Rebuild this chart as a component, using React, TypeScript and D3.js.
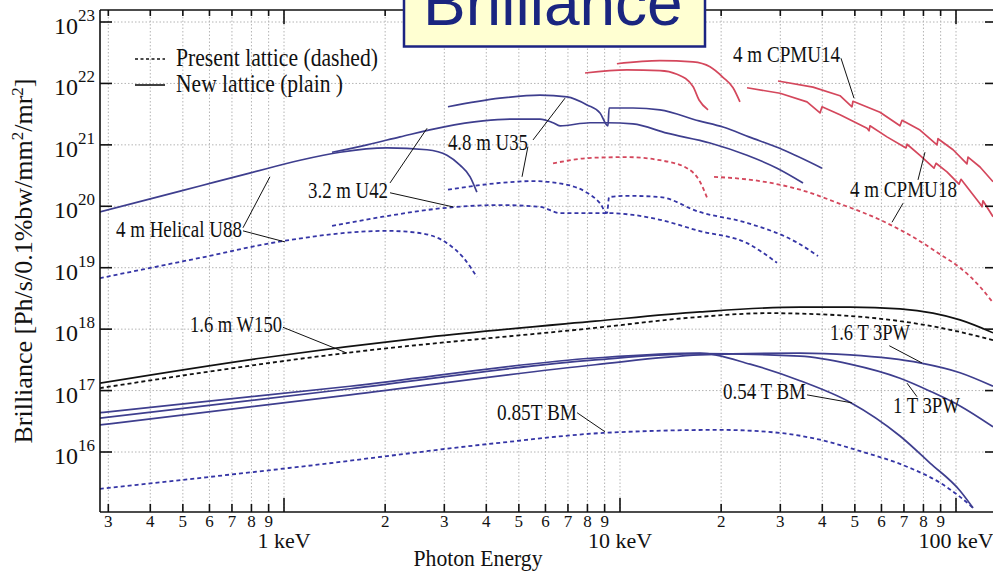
import React from "react";
import * as d3 from "d3";

// Each point: [photon energy in keV, log10 brilliance]
type Pt = [number, number];

const U88_NEW: Pt[] = [[0.283, 19.91], [0.4, 20.12], [0.562, 20.33], [0.79, 20.54], [1.116, 20.75], [1.468, 20.88], [2.026, 20.95], [2.665, 20.92], [3.055, 20.83], [3.34, 20.67], [3.58, 20.48], [3.75, 20.23]];
const U88_PRESENT: Pt[] = [[0.283, 18.83], [0.562, 19.16], [1.007, 19.44], [2.026, 19.6], [2.488, 19.57], [3.055, 19.4], [3.41, 19.17], [3.75, 18.85]];
const U42_NEW: Pt[] = [[1.39, 20.88], [1.766, 21.0], [2.215, 21.13], [2.973, 21.29], [3.91, 21.39], [4.8, 21.42], [5.78, 21.42], [6.32, 21.36], [6.63, 21.31], [8.14, 21.36], [9.15, 21.36], [10.93, 21.34], [13.8, 21.19], [18.53, 21.03], [23.88, 20.83], [29.33, 20.62], [35.05, 20.38]];
const U42_PRESENT: Pt[] = [[1.39, 19.68], [1.97, 19.83], [2.973, 19.97], [4.39, 20.02], [5.78, 19.99], [6.63, 19.89], [8.14, 19.89], [9.15, 19.89], [10.93, 19.86], [13.15, 19.78], [17.19, 19.6], [23.88, 19.4], [29.33, 19.08]];
const U35_NEW: Pt[] = [[3.076, 21.62], [4.39, 21.76], [5.78, 21.81], [6.96, 21.78], [7.98, 21.65], [8.72, 21.52], [9.21, 21.31], [9.28, 21.6], [10.93, 21.6], [13.15, 21.57], [17.19, 21.39], [20.25, 21.29], [24.2, 21.13], [30.56, 20.92], [39.93, 20.62]];
const U35_PRESENT: Pt[] = [[3.076, 20.27], [4.39, 20.38], [5.51, 20.41], [6.96, 20.35], [7.98, 20.22], [8.72, 20.05], [9.15, 19.89], [9.28, 20.15], [10.49, 20.17], [13.15, 20.15], [17.19, 19.91], [23.88, 19.73], [33.87, 19.4], [38.85, 19.19]];
const CPMU_NEW_LOW1: Pt[] = [[7.87, 22.17], [10.49, 22.22], [13.15, 22.21], [14.78, 22.15], [16.49, 21.95], [17.19, 21.73], [18.28, 21.57]];
const CPMU_NEW_LOW2: Pt[] = [[9.79, 22.32], [13.15, 22.37], [16.49, 22.35], [18.53, 22.27], [20.25, 22.1], [21.7, 21.93], [22.75, 21.7]];
const CPMU18_NEW: Pt[] = [[23.88, 21.93], [29.94, 21.84], [36.02, 21.7], [39.38, 21.52], [39.93, 21.62], [45.16, 21.49], [54.35, 21.27], [55.1, 21.23], [55.46, 21.31], [62.31, 21.13], [71.0, 20.95], [71.5, 21.01], [78.13, 20.83], [86.0, 20.62], [87.2, 20.7], [94.0, 20.56], [102.1, 20.36], [103.5, 20.44], [117.9, 20.04], [119.5, 19.99], [120.3, 20.09], [128.9, 19.83]];
const CPMU14_NEW: Pt[] = [[29.53, 22.04], [37.53, 21.94], [45.16, 21.8], [49.02, 21.62], [49.36, 21.71], [59.4, 21.53], [68.13, 21.31], [69.08, 21.4], [78.13, 21.24], [87.8, 21.0], [88.4, 21.1], [98.0, 20.92], [107.8, 20.69], [108.6, 20.8], [117.9, 20.64], [128.9, 20.4]];
const CPMU_PRESENT_LOW: Pt[] = [[6.32, 20.7], [8.31, 20.79], [10.49, 20.8], [13.15, 20.75], [15.83, 20.62], [17.3, 20.4], [18.28, 20.1]];
const CPMU_PRESENT_HIGH: Pt[] = [[19.05, 20.48], [26.11, 20.41], [34.34, 20.27], [45.16, 20.04], [59.4, 19.78], [74.47, 19.5], [89.6, 19.22], [102.8, 19.0], [117.9, 18.69], [128.9, 18.43]];
const W150_NEW: Pt[] = [[0.283, 17.12], [0.86, 17.53], [2.683, 17.87], [8.43, 18.13], [17.3, 18.28], [34.34, 18.36], [48.35, 18.36], [68.13, 18.33], [85.4, 18.26], [102.8, 18.15], [128.9, 17.94]];
const W150_PRESENT: Pt[] = [[0.283, 17.04], [1.519, 17.61], [8.43, 18.02], [17.3, 18.2], [27.39, 18.26], [43.63, 18.23], [68.13, 18.13], [96.0, 17.99], [128.9, 17.82]];
const BM054_NEW: Pt[] = [[0.283, 16.64], [1.572, 17.07], [8.43, 17.53], [17.3, 17.61], [24.4, 17.43], [34.34, 17.16], [48.35, 16.81], [68.13, 16.26], [83.7, 15.82], [102.8, 15.37], [112.4, 15.09]];
const PW1T_NEW: Pt[] = [[0.283, 16.55], [1.572, 17.03], [8.43, 17.5], [17.3, 17.6], [34.34, 17.56], [48.35, 17.43], [68.13, 17.2], [83.7, 16.99], [102.8, 16.75], [128.9, 16.41]];
const PW16T_NEW: Pt[] = [[0.283, 16.44], [1.572, 16.93], [8.43, 17.42], [17.3, 17.58], [34.34, 17.61], [48.35, 17.58], [78.13, 17.45], [102.8, 17.29], [128.9, 17.07]];
const BM085_PRESENT: Pt[] = [[0.283, 15.4], [1.116, 15.76], [4.39, 16.15], [8.9, 16.31], [19.85, 16.36], [29.94, 16.31], [39.38, 16.2], [50.7, 16.03], [71.5, 15.76], [89.6, 15.5], [102.8, 15.27], [112.4, 15.09]];

const Y_EXPONENTS = [16, 17, 18, 19, 20, 21, 22, 23];
const X_DECADES = [0.1, 1, 10, 100];
const X_MAJOR_LABELS: Record<string, string> = { "1": "1 keV", "10": "10 keV", "100": "100 keV" };

const NAVY = "#3e3e8e";
const NAVY_D = "#3535a6";
const RED = "#d4475c";
const BLACK = "#111111";

const SERIES = [
  { data: U88_PRESENT, color: NAVY_D, dashed: true, sharp: false },
  { data: U42_PRESENT, color: NAVY_D, dashed: true, sharp: false },
  { data: U35_PRESENT, color: NAVY_D, dashed: true, sharp: false },
  { data: CPMU_PRESENT_LOW, color: RED, dashed: true, sharp: false },
  { data: CPMU_PRESENT_HIGH, color: RED, dashed: true, sharp: false },
  { data: W150_PRESENT, color: BLACK, dashed: true, sharp: false },
  { data: BM085_PRESENT, color: NAVY_D, dashed: true, sharp: false },
  { data: U88_NEW, color: NAVY, dashed: false, sharp: false },
  { data: U42_NEW, color: NAVY, dashed: false, sharp: false },
  { data: U35_NEW, color: NAVY, dashed: false, sharp: false },
  { data: CPMU_NEW_LOW1, color: RED, dashed: false, sharp: false },
  { data: CPMU_NEW_LOW2, color: RED, dashed: false, sharp: false },
  { data: CPMU18_NEW, color: RED, dashed: false, sharp: true },
  { data: CPMU14_NEW, color: RED, dashed: false, sharp: true },
  { data: W150_NEW, color: BLACK, dashed: false, sharp: false },
  { data: BM054_NEW, color: NAVY, dashed: false, sharp: false },
  { data: PW1T_NEW, color: NAVY, dashed: false, sharp: false },
  { data: PW16T_NEW, color: NAVY, dashed: false, sharp: false },
];

// Annotations in data coordinates [keV, log10 brilliance]
const ANNOTATIONS: { text: string; at: Pt; len: number; leaders: Pt[][] }[] = [
  { text: "4 m Helical U88", at: [0.316, 19.5], len: 126, leaders: [[[0.755, 19.65], [0.908, 20.48]], [[0.755, 19.6], [1.007, 19.42]]] },
  { text: "3.2 m U42", at: [1.179, 20.14], len: 80, leaders: [[[2.068, 20.38], [2.665, 21.27]], [[2.068, 20.22], [3.184, 19.99]]] },
  { text: "4.8 m U35", at: [3.076, 20.92], len: 80, leaders: [[[5.51, 21.08], [6.86, 21.76]], [[5.32, 20.97], [5.11, 20.48]]] },
  { text: "4 m CPMU14", at: [21.7, 22.35], len: 107, leaders: [[[45.47, 22.41], [49.71, 21.76]]] },
  { text: "4 m CPMU18", at: [48.35, 20.15], len: 107, leaders: [[[77.08, 20.43], [80.85, 20.88]], [[69.56, 20.05], [64.5, 19.74]]] },
  { text: "1.6 m W150", at: [0.525, 17.95], len: 92, leaders: [[[0.993, 18.03], [1.54, 17.61]]] },
  { text: "1.6 T 3PW", at: [42.17, 17.82], len: 80, leaders: [[[63.3, 17.73], [79.2, 17.45]]] },
  { text: "1 T 3PW", at: [64.93, 16.64], len: 67, leaders: [[[76.55, 16.9], [71.5, 17.12]]] },
  { text: "0.54 T BM", at: [20.25, 16.86], len: 83, leaders: [[[36.02, 16.93], [49.02, 16.8]]] },
  { text: "0.85T BM", at: [4.305, 16.52], len: 80, leaders: [[[7.45, 16.64], [9.02, 16.33]]] },
];

const SERIF = "'Liberation Serif', 'Times New Roman', serif";

export default function App() {
  const W = 993, H = 573;
  const left = 100, right = 997, top = 10, bottom = 512;
  const x = d3.scaleLog().domain([1, 100]).range([284, 956]);
  const y = d3.scaleLog().domain([1e16, 1e23]).range([452, 22]);
  const px = (e: number) => x(e);
  const py = (l: number) => y(Math.pow(10, l));
  const xMin = x.invert(left), xMax = x.invert(right);
  const smooth = d3.line<Pt>().x(d => px(d[0])).y(d => py(d[1])).curve(d3.curveMonotoneX);
  const sharp = d3.line<Pt>().x(d => px(d[0])).y(d => py(d[1])).curve(d3.curveLinear);

  const xTicks: { v: number; m: number }[] = [];
  X_DECADES.forEach(dec => {
    for (let m = 1; m <= 9; m++) {
      const v = m * dec;
      if (v >= xMin && v <= xMax) xTicks.push({ v, m });
    }
  });

  const grid = "#b4b4b4";
  return (
    <svg width={W} height={H} style={{ position: "absolute", left: 0, top: 0, background: "#fff" }} fontFamily={SERIF}>
      <defs>
        <clipPath id="plot">
          <rect x={left} y={top} width={right - left} height={bottom - top} />
        </clipPath>
      </defs>
      <rect x={0} y={0} width={W} height={H} fill="#fff" />
      {/* grid */}
      <g stroke={grid} strokeWidth={1} strokeDasharray="1.5,2">
        {xTicks.map((t, i) => (
          <line key={"gx" + i} x1={px(t.v)} x2={px(t.v)} y1={top} y2={bottom} />
        ))}
        {Y_EXPONENTS.map(e => (
          <line key={"gy" + e} x1={left} x2={right} y1={py(e)} y2={py(e)} />
        ))}
      </g>
      {/* curves */}
      <g clipPath="url(#plot)" fill="none">
        {SERIES.map((s, i) => (
          <path key={i} d={(s.sharp ? sharp : smooth)(s.data) || ""} stroke={s.color} strokeWidth={s.dashed ? 1.8 : 1.7}
            strokeDasharray={s.dashed ? "4,3" : undefined} strokeLinejoin="round" />
        ))}
      </g>
      {/* frame */}
      <g stroke="#111" strokeWidth={1.6} fill="none">
        <line x1={left} x2={left} y1={top} y2={bottom} />
        <line x1={left} x2={right} y1={bottom} y2={bottom} />
        <line x1={left} x2={right} y1={top} y2={top} />
        <line x1={right} x2={right} y1={top} y2={bottom} />
        {xTicks.map((t, i) => {
          const L = t.m === 1 ? 14 : 8;
          return (
            <g key={"tx" + i}>
              <line x1={px(t.v)} x2={px(t.v)} y1={bottom} y2={bottom - L} />
              <line x1={px(t.v)} x2={px(t.v)} y1={top} y2={top + (t.m === 1 ? 14 : 6)} />
            </g>
          );
        })}
        {Y_EXPONENTS.map(e => (
          <g key={"ty" + e}>
            <line x1={left} x2={left + 12} y1={py(e)} y2={py(e)} />
            <line x1={right} x2={right - 12} y1={py(e)} y2={py(e)} />
          </g>
        ))}
      </g>
      {/* x tick labels */}
      <g fill="#111" textAnchor="middle">
        {xTicks.map((t, i) =>
          t.m === 1 ? (
            <text key={"lx" + i} x={px(t.v)} y={548} fontSize={22}>{X_MAJOR_LABELS[String(t.v)]}</text>
          ) : (
            <text key={"lx" + i} x={px(t.v)} y={527} fontSize={17}>{String(t.m)}</text>
          )
        )}
      </g>
      <text x={478} y={566} textAnchor="middle" fontSize={24} textLength={129} lengthAdjust="spacingAndGlyphs" fill="#111">Photon Energy</text>
      {/* y tick labels */}
      <g fill="#111">
        {Y_EXPONENTS.map(e => (
          <g key={"ly" + e}>
            <text x={78} y={py(e) + 12} textAnchor="end" fontSize={24}>10</text>
            <text x={78} y={py(e) - 1} fontSize={17}>{e}</text>
          </g>
        ))}
      </g>
      <text transform="translate(32,261) rotate(-90)" textAnchor="middle" fontSize={26} fill="#111">
        Brilliance [Ph/s/0.1%bw/mm<tspan dy={-9} fontSize={17}>2</tspan><tspan dy={9}>/mr</tspan><tspan dy={-9} fontSize={17}>2</tspan><tspan dy={9}>]</tspan>
      </text>
      {/* annotations */}
      <g fill="#111">
        {ANNOTATIONS.map((a, i) => (
          <g key={"an" + i}>
            <text x={px(a.at[0])} y={py(a.at[1])} fontSize={24} textLength={a.len} lengthAdjust="spacingAndGlyphs">{a.text}</text>
            {a.leaders.map((ld, j) => (
              <line key={j} x1={px(ld[0][0])} y1={py(ld[0][1])} x2={px(ld[1][0])} y2={py(ld[1][1])} stroke="#111" strokeWidth={1} />
            ))}
          </g>
        ))}
      </g>
      {/* legend */}
      <g>
        <line x1={135} x2={165} y1={59} y2={59} stroke="#111" strokeWidth={1.6} strokeDasharray="3,2.5" />
        <text x={176} y={66} fontSize={25} textLength={202} lengthAdjust="spacingAndGlyphs" fill="#111">Present lattice (dashed)</text>
        <line x1={135} x2={165} y1={85} y2={85} stroke="#111" strokeWidth={1.6} />
        <text x={176} y={92} fontSize={25} textLength={167} lengthAdjust="spacingAndGlyphs" fill="#111">New lattice (plain )</text>
      </g>
      {/* title box */}
      <rect x={404} y={-10} width={301} height={56.5} fill="#ffffd2" stroke="#1c2482" strokeWidth={2.5} />
      <text x={423} y={25} fontFamily="'Liberation Sans', Arial, sans-serif" fontSize={64} fill="#1a2580">Brilliance</text>
    </svg>
  );
}
